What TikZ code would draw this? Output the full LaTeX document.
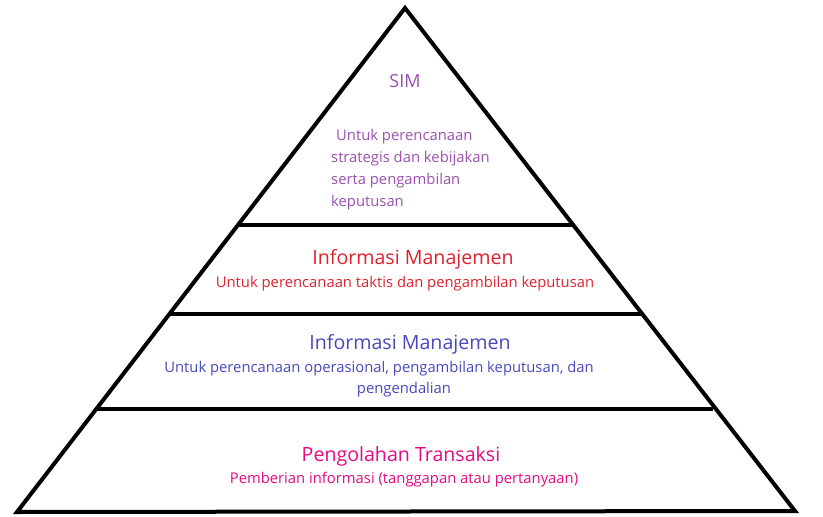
\documentclass[tikz,border=0pt]{standalone}
\usepackage{fontspec}
\setmainfont{Open Sans}
\definecolor{simc}{RGB}{155,80,175}
\definecolor{redc}{RGB}{222,34,44}
\definecolor{bluec}{RGB}{72,72,190}
\definecolor{pinkc}{RGB}{228,10,130}
\begin{document}
\begin{tikzpicture}[x=1pt,y=-1pt,
  edge/.style={line width=4pt,line join=miter},
  sep/.style={line width=4pt},
  head/.style={font=\fontsize{19.6}{24}\selectfont,inner sep=0pt,anchor=center},
  sub/.style={font=\fontsize{14.8}{21}\selectfont,inner sep=0pt,anchor=center,align=center}]
\useasboundingbox (0,0) rectangle (823,517);
\coordinate (apex) at (405,8);
\coordinate (bl) at (17,512);
\coordinate (br) at (795,511);
\draw[edge] (apex) -- (br) -- (bl) -- cycle;
\coordinate (l1) at (238,225); \coordinate (r1) at (572,225);
\coordinate (l2) at (169,314); \coordinate (r2) at (641,314);
\coordinate (l3) at (96,409);  \coordinate (r3) at (713,409);
\draw[sep] (l1) -- (r1);
\draw[sep] (l2) -- (r2);
\draw[sep] (l3) -- (r3);
\node[head,text=simc,font=\fontsize{18}{22}\selectfont] (sim) at (405,81) {SIM};
\node[sub,text=simc,anchor=north west,align=left,font=\fontsize{14.8}{22}\selectfont] (simsub) at (331,129) {\hspace{5pt}Untuk perencanaan\\strategis dan kebijakan\\serta pengambilan\\keputusan};
\node[head,text=redc] (im1) at (413,259) {Informasi Manajemen};
\node[sub,text=redc] (im1s) at (405,284) {Untuk perencanaan taktis dan pengambilan keputusan};
\node[head,text=bluec] (im2) at (410,344) {Informasi Manajemen};
\node[sub,text=bluec] (im2s) at (379,369) {Untuk perencanaan operasional, pengambilan keputusan, dan};
\node[sub,text=bluec] (im2t) at (404,390) {pengendalian};
\node[head,text=pinkc] (pt) at (401,456) {Pengolahan Transaksi};
\node[sub,text=pinkc] (pts) at (404,480) {Pemberian informasi (tanggapan atau pertanyaan)};
\end{tikzpicture}
\end{document}
